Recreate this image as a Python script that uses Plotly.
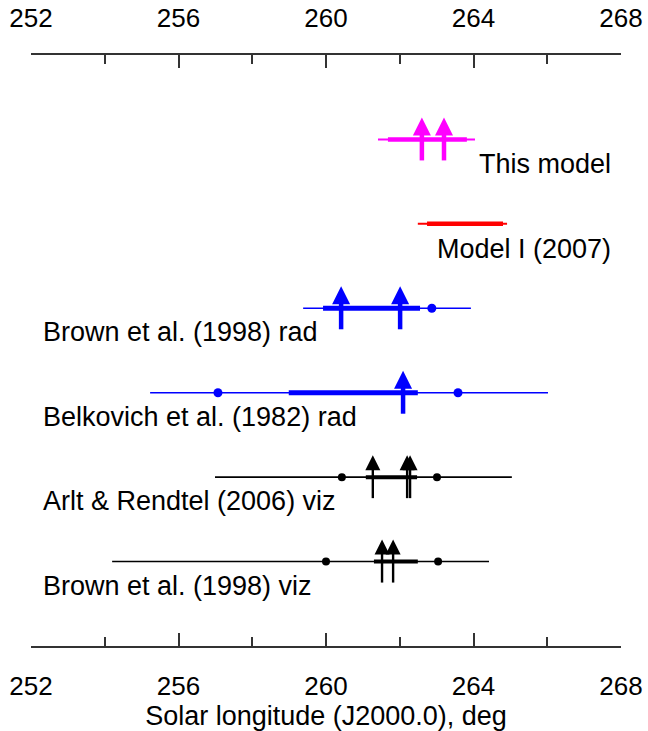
import plotly.graph_objects as go

# ---- data (solar longitude, deg, J2000.0) ----
rows = ["This model", "Model I (2007)", "Brown et al. (1998) rad",
        "Belkovich et al. (1982) rad", "Arlt & Rendtel (2006) viz",
        "Brown et al. (1998) viz"]
row_pos = [6, 5, 4, 3, 2, 1]
thin_lo = [261.41, 262.49, 259.38, 255.23, 256.99, 254.20]
thin_hi = [264.04, 264.91, 263.93, 266.02, 265.04, 264.42]
thick_lo = [261.68, 262.74, 259.92, 258.99, 261.08, 261.30]
thick_hi = [263.82, 264.80, 262.55, 262.49, 262.47, 262.49]
dots = [[], [], [262.87], [257.07, 263.58], [260.43, 263.01], [260.00, 263.04]]
peaks = [[262.60, 263.20], [], [260.41, 262.01], [262.09],
         [261.27, 262.20, 262.28], [261.52, 261.82]]
x_ticks = [252, 256, 260, 264, 268]

# ---- styles ----
colors = ["#FF00FF", "#FF0000", "#0000FF", "#0000FF", "#000000", "#000000"]
thin_w = [2, 2, 1.6, 1.6, 1.6, 1.6]
thick_w = [4.5, 4.5, 5, 5, 4, 4]
dot_size = [9, 9, 9, 9, 8, 8]
shaft_w = [4.5, 4.5, 4.5, 4.5, 2.4, 2.4]
head_size = [18, 18, 18, 18, 15, 15]
label_side = ["right", "right", "left", "left", "left", "left"]

FONT = "Liberation Sans, Arial, sans-serif"
W, H = 648, 731
M = dict(l=31, r=27, t=55, b=85)
YR = [0, 7]
px_per_y = (H - M["t"] - M["b"]) / (YR[1] - YR[0])

fig = go.Figure()
for i, name in enumerate(rows):
    y = row_pos[i]
    c = colors[i]
    fig.add_trace(go.Scatter(x=[thin_lo[i], thin_hi[i]], y=[y, y], mode="lines",
                             line=dict(color=c, width=thin_w[i]), hoverinfo="skip"))
    fig.add_trace(go.Scatter(x=[thick_lo[i], thick_hi[i]], y=[y, y], mode="lines",
                             line=dict(color=c, width=thick_w[i]), hoverinfo="skip"))
    if dots[i]:
        fig.add_trace(go.Scatter(x=dots[i], y=[y] * len(dots[i]), mode="markers",
                                 marker=dict(color=c, size=dot_size[i]), hoverinfo="skip"))
    if peaks[i]:
        tip = y + 22 / px_per_y
        bottom = y - 21 / px_per_y
        shaft_top = tip - (head_size[i] * 0.8) / px_per_y
        sx, sy = [], []
        for p in peaks[i]:
            sx += [p, p, None]
            sy += [bottom, shaft_top, None]
        fig.add_trace(go.Scatter(x=sx, y=sy, mode="lines",
                                 line=dict(color=c, width=shaft_w[i]), hoverinfo="skip"))
        fig.add_trace(go.Scatter(x=peaks[i], y=[tip] * len(peaks[i]), mode="markers",
                                 marker=dict(symbol="arrow-up", size=head_size[i], color=c,
                                             line=dict(width=0)),
                                 hoverinfo="skip"))
    # label
    if label_side[i] == "right":
        fig.add_annotation(x=267.78, y=y - 25 / px_per_y, text=name, showarrow=False,
                           xanchor="right", yanchor="middle",
                           font=dict(family=FONT, size=27, color="#000"))
    else:
        fig.add_annotation(x=252.28, y=y - 24 / px_per_y, text=name, showarrow=False,
                           xanchor="left", yanchor="middle",
                           font=dict(family=FONT, size=27, color="#000"))

# invisible trace on the top axis
fig.add_trace(go.Scatter(x=[252, 268], y=[0, 0], xaxis="x2", mode="markers",
                         marker=dict(opacity=0), hoverinfo="skip"))

axis_common = dict(
    range=[252, 268], tickmode="array", tickvals=x_ticks,
    ticktext=[str(t) for t in x_ticks],
    ticks="inside", ticklen=13, tickwidth=1.5, tickcolor="#333",
    minor=dict(ticks="inside", ticklen=9, tickwidth=1.5, tickcolor="#333",
               tick0=252, dtick=2),
    showline=True, linecolor="#333", linewidth=1.6,
    showgrid=False, zeroline=False, automargin=False,
    tickfont=dict(family=FONT, size=26, color="#000"),
    ticklabelstandoff=16,
)

fig.update_layout(
    template="none",
    width=W, height=H, margin=M,
    paper_bgcolor="white", plot_bgcolor="white",
    showlegend=False,
    xaxis=dict(**axis_common, side="bottom",
               title=dict(text="Solar longitude (J2000.0), deg",
                          font=dict(family=FONT, size=27, color="#000"), standoff=0)),
    xaxis2=dict(**axis_common, side="top", overlaying="x", anchor="y"),
    yaxis=dict(range=YR, visible=False, fixedrange=True, automargin=False),
)

fig.write_html("out.html")
